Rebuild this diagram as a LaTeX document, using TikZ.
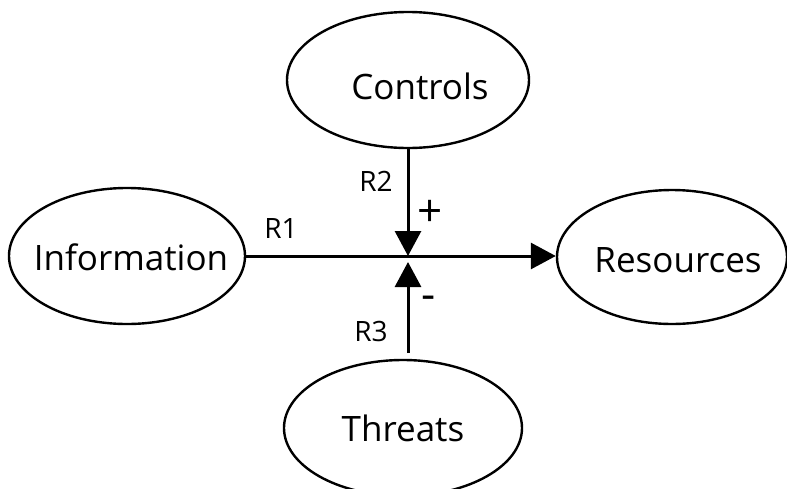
\documentclass[tikz,border=0pt]{standalone}
\usepackage{fontspec}
\setmainfont{Open Sans}
\usetikzlibrary{shapes.geometric,arrows.meta}
\begin{document}
\begin{tikzpicture}[x=1pt,y=-1pt,
  oval/.style={draw,ellipse,line width=2.4pt,inner sep=0pt},
  ovaltext/.style={font=\fontsize{35}{40}\selectfont,inner sep=0pt},
  link/.style={line width=3pt},
  tip/.style={-{Triangle[length=25pt,width=26pt]}},
  lab/.style={font=\fontsize{28}{31}\selectfont,inner sep=0pt},
  sign/.style={font=\fontsize{44}{48}\selectfont,inner sep=0pt}]
\useasboundingbox (0,0) rectangle (787,488);
\node[oval,minimum width=242pt,minimum height=136pt,
  label={[ovaltext,xshift=12pt,yshift=-6pt]center:Controls}] (ctrl) at (408,80) {};
\node[oval,minimum width=236pt,minimum height=136pt,
  label={[ovaltext,xshift=4pt,yshift=-1pt]center:Information}] (info) at (127,256) {};
\node[oval,minimum width=230pt,minimum height=134pt,
  label={[ovaltext,xshift=6pt,yshift=-3pt]center:Resources}] (res) at (672,257) {};
\node[oval,minimum width=238pt,minimum height=136pt,
  label={[ovaltext]center:Threats}] (thr) at (403,428) {};
\coordinate (J) at (408,256);
\coordinate (T) at (408,353);
\draw[link,tip] (info.east |- J) -- (res.west |- J);
\draw[link,tip] (ctrl.south) -- (J);
\draw[link,tip] (T) -- ([yshift=-6pt]J);
\node[lab] (r1) at (281,228) {R1};
\node[lab] (r2) at (376,181) {R2};
\node[lab] (r3) at (371,331) {R3};
\node[sign] (plus) at (430,213) {+};
\node[sign] (minus) at (429,303) {-};
\end{tikzpicture}
\end{document}
